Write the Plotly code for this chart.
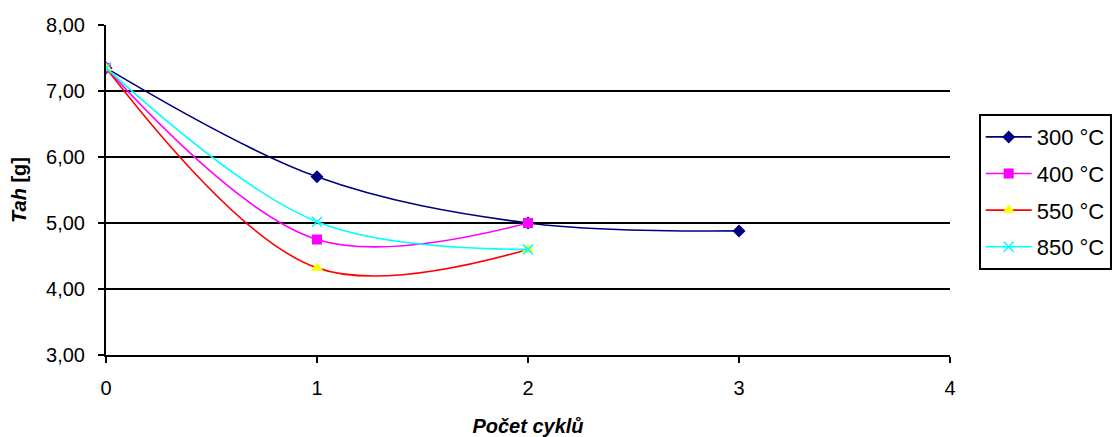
import plotly.graph_objects as go

cycles_300 = [0, 1, 2, 3]
tah_300 = [7.35, 5.70, 5.00, 4.88]
cycles_400 = [0, 1, 2]
tah_400 = [7.35, 4.75, 5.00]
cycles_550 = [0, 1, 2]
tah_550 = [7.35, 4.32, 4.60]
cycles_850 = [0, 1, 2]
tah_850 = [7.35, 5.02, 4.60]

series = [
    ("300 °C", cycles_300, tah_300, "#000080", dict(symbol="diamond", size=10, color="#000080")),
    ("400 °C", cycles_400, tah_400, "#FF00FF", dict(symbol="square", size=10, color="#FF00FF")),
    ("550 °C", cycles_550, tah_550, "#FF0000", dict(symbol="triangle-up", size=11, color="#FFFF00")),
    ("850 °C", cycles_850, tah_850, "#00FFFF", dict(symbol="x-thin", size=10, color="#00FFFF",
                                                    line=dict(color="#00FFFF", width=1.5))),
]

fig = go.Figure()
for name, xs, ys, lc, mk in series:
    fig.add_trace(go.Scatter(
        x=xs, y=ys, name=name, mode="lines+markers", legendgroup=name,
        line=dict(color=lc, width=1.6, shape="spline", smoothing=1.0),
        marker=mk,
    ))

font_family = "Liberation Sans, Arial, sans-serif"
fig.update_layout(
    width=1117, height=437,
    margin=dict(l=106, r=167, t=25, b=82, autoexpand=False),
    paper_bgcolor="white", plot_bgcolor="white",
    separators=", ",
    font=dict(family=font_family, size=20, color="black"),
    showlegend=True,
    legend=dict(
        x=1.034, xanchor="left", y=0.73, yanchor="top",
        bordercolor="black", borderwidth=2, bgcolor="white",
        font=dict(size=22), tracegroupgap=5, itemwidth=46,
    ),
    xaxis=dict(
        range=[0, 4], dtick=1, tick0=0, automargin=False,
        showgrid=False, zeroline=False,
        showline=True, linecolor="black", linewidth=2,
        ticks="outside", ticklen=6, tickwidth=2, tickcolor="black",
        tickfont=dict(size=20), ticklabelstandoff=8,
        title=dict(text="<b><i>Počet cyklů</i></b>", font=dict(size=20), standoff=24),
    ),
    yaxis=dict(
        range=[3, 8], dtick=1, tick0=3, automargin=False,
        tickformat=".2f",
        showgrid=True, gridcolor="black", gridwidth=2,
        zeroline=False,
        showline=True, linecolor="black", linewidth=2,
        ticks="outside", ticklen=6, tickwidth=2, tickcolor="black",
        tickfont=dict(size=20), ticklabelstandoff=9,
        title=dict(text="<b><i>Tah</i> [g]</b>", font=dict(size=20), standoff=14),
    ),
)

fig.write_html("out.html")
